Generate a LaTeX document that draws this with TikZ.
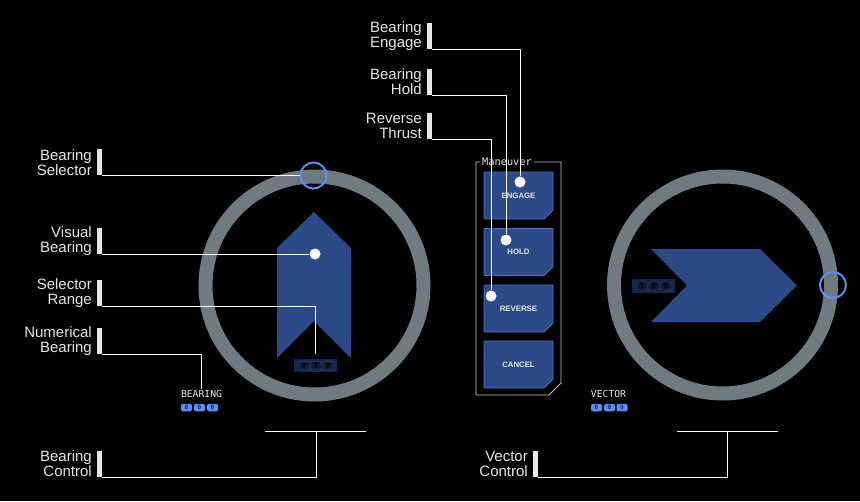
\documentclass[tikz,border=0pt]{standalone}
\usepackage{fontspec}
\setsansfont{Liberation Sans}
\setmonofont{DejaVu Sans Mono}
\usetikzlibrary{arrows.meta, positioning}

\definecolor{gris}{HTML}{6E7B80}
\definecolor{azul}{HTML}{2C4A88}
\definecolor{azulborde}{HTML}{4A72C8}
\definecolor{selector}{HTML}{5B8FF0}
\definecolor{marino}{HTML}{17264A}
\definecolor{texto}{HTML}{E6E6E6}
\definecolor{marcogris}{HTML}{C8C8C8}

\begin{document}
\begin{tikzpicture}[x=1pt, y=-1pt,
    etiqueta/.style={font=\sffamily\fontsize{15}{15}\selectfont, text=texto, align=right, inner sep=0pt},
    barra/.style={fill=texto, minimum width=4.5pt, minimum height=26pt, inner sep=0pt, anchor=south west},
    guia/.style={white, line width=0.9pt},
    punto/.style={circle, fill=white, minimum size=11pt, inner sep=0pt},
    anillo/.style={draw=gris, line width=14pt},
    rumbo/.style={circle, draw=selector, line width=2pt, minimum size=26pt, inner sep=0pt},
    boton/.style={fill=azul, draw=azulborde, line width=0.8pt},
    botontexto/.style={inner sep=0pt, text=texto, font=\sffamily\bfseries\fontsize{7.8}{8}\selectfont},
    rotulo/.style={font=\ttfamily\fontsize{9.7}{10}\selectfont, text=texto, inner sep=1pt},
    celda/.style={rounded corners=1.5pt, fill=selector, minimum width=11pt, minimum height=7.5pt,
        inner sep=0pt, text=marino, font=\ttfamily\bfseries\fontsize{6}{6}\selectfont},
    pantalla/.style={fill=marino, minimum width=43pt, minimum height=13.5pt, inner sep=0pt},
    cifra/.style={rounded corners=1pt, draw=azul, fill=marino!70!black, minimum width=10pt,
        minimum height=8pt, inner sep=0pt, text=black, font=\ttfamily\bfseries\fontsize{7.5}{7.5}\selectfont}]

    % Fondo
    \useasboundingbox[fill=black] (0,0) rectangle (860,501);

    % Anillos y flechas
    \draw[anillo] (314.5,285.5) circle[radius=109pt];
    \draw[anillo] (722.5,285) circle[radius=108.5pt];
    \fill[azul] (314,212) -- (351,248) -- (351,358) -- (314,321) -- (277,358) -- (277,248) -- cycle;
    \fill[azul] (651,249) -- (760,249) -- (797,285.5) -- (760,322) -- (651,322) -- (687,285.5) -- cycle;

    % Pantallas numericas
    \node[pantalla] (numrumbo) at (315.5,365.5) {};
    \node[cifra] (nr1) at (304,365.5) {0};
    \node[cifra] (nr2) at (316,365.5) {3};
    \node[cifra] (nr3) at (328,365.5) {0};
    \node[pantalla] (numvector) at (653.5,286) {};
    \node[cifra] (nv1) at (642,286) {1};
    \node[cifra] (nv2) at (654,286) {8};
    \node[cifra] (nv3) at (666,286) {0};

    % Selectores
    \node[rumbo] (selrumbo) at (313.5,175.5) {};
    \node[rumbo] (selvector) at (833,285) {};

    % Rotulos inferiores
    \node[rotulo] (brtitulo) at (201.5,394) {BEARING};
    \node[celda] (b1) at (186.5,407.5) {0};
    \node[celda] (b2) at (199.5,407.5) {0};
    \node[celda] (b3) at (212.5,407.5) {0};
    \node[rotulo] (vctitulo) at (608.5,394) {VECTOR};
    \node[celda] (v1) at (596.5,407.5) {0};
    \node[celda] (v2) at (609.5,407.5) {0};
    \node[celda] (v3) at (622,407.5) {0};

    % Panel de maniobra
    \draw[marcogris, line width=0.8pt] (476,162) -- (561,162) -- (561,383) -- (549,395) -- (476,395) -- cycle;
    \node[rotulo, fill=black, anchor=west, inner xsep=2pt, font=\ttfamily\fontsize{10.3}{10}\selectfont] (maniobra) at (480,162) {Maneuver};
    \foreach \yc in {195.5,252,308.5,364.5}
        \filldraw[boton] (484,\yc-23.5) -- (553,\yc-23.5) -- (553,\yc+14.5) -- (544,\yc+23.5) -- (484,\yc+23.5) -- cycle;
    \node[botontexto] (engage) at (518.5,195.5) {ENGAGE};
    \node[botontexto] (hold) at (518.5,252) {HOLD};
    \node[botontexto] (reverse) at (518.5,308.5) {REVERSE};
    \node[botontexto] (cancel) at (518.5,364.5) {CANCEL};

    % Puntos
    \node[punto] (engdot) at (520,182) {};
    \node[punto] (holddot) at (506,240) {};
    \node[punto] (revdot) at (491,296) {};
    \node[punto] (vbdot) at (315,254) {};
    \coordinate (srfin) at (315.5,354);
    \coordinate (bcbase) at (316,431);
    \coordinate (vcbase) at (727,431);

    % Etiquetas
    \node[barra] (bebar) at (427,49) {};
    \node[etiqueta, left=5pt of bebar] (betxt) {Bearing\\Engage};
    \node[barra] (bhbar) at (427,95) {};
    \node[etiqueta, left=5pt of bhbar] (bhtxt) {Bearing\\Hold};
    \node[barra] (rtbar) at (427,139) {};
    \node[etiqueta, left=5pt of rtbar] (rttxt) {Reverse\\Thrust};
    \node[barra] (bsbar) at (97,175.5) {};
    \node[etiqueta, left=5pt of bsbar] (bstxt) {Bearing\\Selector};
    \node[barra] (vbbar) at (97,254) {};
    \node[etiqueta, left=5pt of vbbar] (vbtxt) {Visual\\Bearing};
    \node[barra] (srbar) at (97,306) {};
    \node[etiqueta, left=5pt of srbar] (srtxt) {Selector\\Range};
    \node[barra] (nbbar) at (97,354) {};
    \node[etiqueta, left=5pt of nbbar] (nbtxt) {Numerical\\Bearing};
    \node[barra] (bcbar) at (97,477) {};
    \node[etiqueta, left=5pt of bcbar] (bctxt) {Bearing\\Control};
    \node[barra] (vcbar) at (533,477) {};
    \node[etiqueta, left=5pt of vcbar] (vctxt) {Vector\\Control};

    % Lineas guia
    \draw[guia] (bebar.south east) -| (engdot);
    \draw[guia] (bhbar.south east) -| (holddot);
    \draw[guia] (rtbar.south east) -| (revdot);
    \draw[guia] (bsbar.south east) -- (selrumbo);
    \draw[guia] (vbbar.south east) -- (vbdot);
    \draw[guia] (srbar.south east) -| (srfin);
    \draw[guia] (nbbar.south east) -| (brtitulo);
    \draw[guia] (bcbar.south east) -| (bcbase);
    \draw[guia] (bcbase) ++(-51,0) -- ++(101,0);
    \draw[guia] (vcbar.south east) -| (vcbase);
    \draw[guia] (vcbase) ++(-50,0) -- ++(101,0);
\end{tikzpicture}
\end{document}
